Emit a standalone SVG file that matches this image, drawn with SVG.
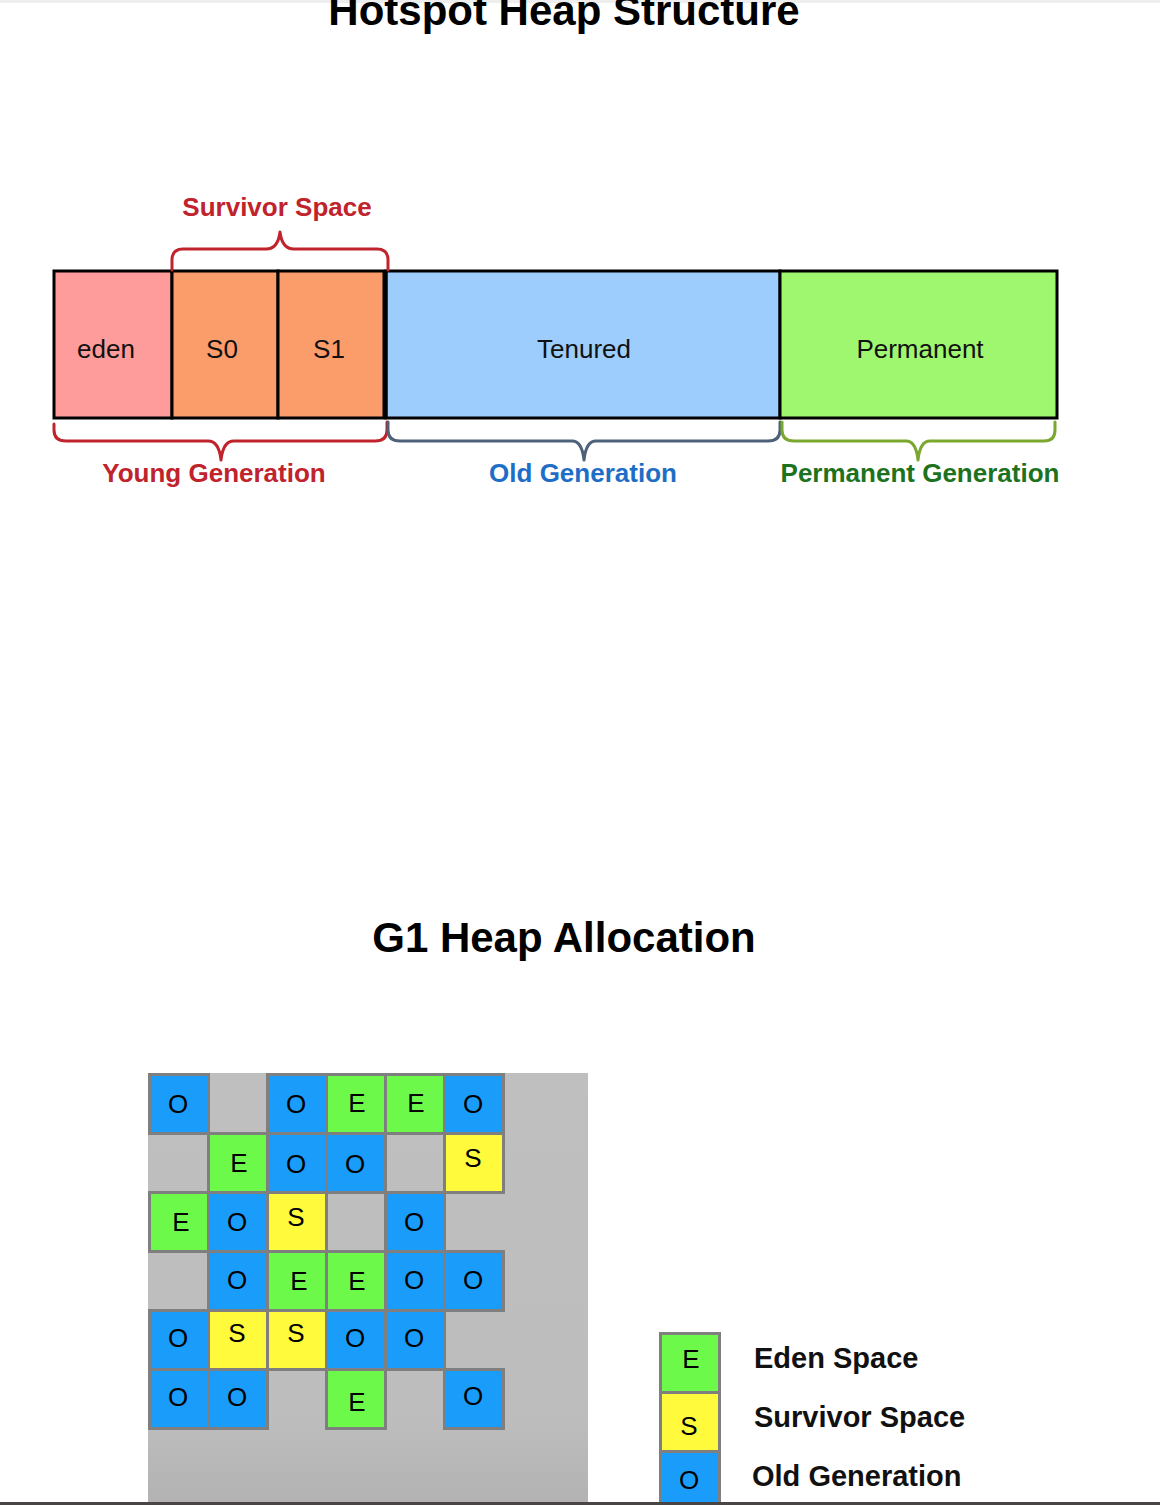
<svg xmlns="http://www.w3.org/2000/svg" width="1160" height="1505" viewBox="0 0 1160 1505">
<style>
.title{font-family:"Liberation Sans",Arial,sans-serif;font-weight:bold;fill:#000;text-anchor:middle;}
.seg{stroke:#000;stroke-width:3;}
.lbl{font-family:"Liberation Sans",Arial,sans-serif;font-size:26px;fill:#111;text-anchor:middle;dominant-baseline:central;}
.brace{fill:none;stroke-width:3;stroke-linejoin:round;stroke-linecap:round;}
.glbl{font-family:"Liberation Sans",Arial,sans-serif;font-size:26px;font-weight:bold;text-anchor:middle;}
.cell{stroke:#7f7f7f;stroke-width:3;}
.E{fill:#6cf94a;}
.S{fill:#fffa3c;}
.O{fill:#1a9cfa;}
.cl{font-family:"Liberation Sans",Arial,sans-serif;font-size:26px;fill:#000;text-anchor:middle;dominant-baseline:central;}
.leg{font-family:"Liberation Sans",Arial,sans-serif;font-size:29px;font-weight:bold;fill:#111;}
</style>
<defs>
<linearGradient id="gbg" x1="0" y1="0" x2="0" y2="1">
<stop offset="0" stop-color="#bfbfbf"/>
<stop offset="0.8" stop-color="#bdbdbd"/>
<stop offset="1" stop-color="#b2b2b2"/>
</linearGradient>
</defs>
<rect x="0" y="0" width="1160" height="1505" fill="#fff"/>
<rect x="0" y="0" width="1160" height="3" fill="#eeeeee"/>

<g id="title-hotspot">
<text class="title" x="564" y="25" font-size="42">Hotspot Heap Structure</text>
</g>

<g id="heap-bar">
<g id="eden"><rect class="seg" x="54" y="271" width="118" height="147" fill="#fe9b9b"/><text class="lbl" x="106" y="349">eden</text></g>
<g id="s0"><rect class="seg" x="172" y="271" width="106" height="147" fill="#fb9c6b"/><text class="lbl" x="222" y="349">S0</text></g>
<g id="s1"><rect class="seg" x="278" y="271" width="107" height="147" fill="#fb9c6b"/><text class="lbl" x="329" y="349">S1</text></g>
<g id="tenured"><rect class="seg" x="386" y="271" width="394" height="147" fill="#9dcdfc"/><text class="lbl" x="584" y="349">Tenured</text></g>
<g id="permanent"><rect class="seg" x="780" y="271" width="277" height="147" fill="#9ff76f"/><text class="lbl" x="920" y="349">Permanent</text></g>
<line x1="385" y1="271" x2="385" y2="418" stroke="#000" stroke-width="5"/>
</g>

<g id="connectors">
<path class="brace" stroke="#c0232b" d="M172,270 L172,260 Q172,249 183,249 L266,249 Q278,249 280,232 Q282,249 294,249 L377,249 Q388,249 388,260 L388,270"/>
<path class="brace" stroke="#c0232b" d="M54,424 L54,430 Q54,441 66,441 L208,441 Q219,441 221,460 Q223,441 234,441 L375,441 Q387,441 387,430 L387,422"/>
<path class="brace" stroke="#4d6278" d="M388,422 L388,430 Q388,441 400,441 L572,441 Q582,441 584,460 Q586,441 596,441 L768,441 Q780,441 780,430 L780,422"/>
<path class="brace" stroke="#7ba72e" d="M782,422 L782,430 Q782,441 794,441 L906,441 Q916,441 918,460 Q920,441 930,441 L1044,441 Q1055,441 1055,430 L1055,422"/>
</g>

<g id="group-labels">
<text class="glbl" x="277" y="216" fill="#c0232b">Survivor Space</text>
<text class="glbl" x="214" y="482" fill="#c0232b">Young Generation</text>
<text class="glbl" x="583" y="482" fill="#1e6dc6">Old Generation</text>
<text class="glbl" x="920" y="482" fill="#1d7220">Permanent Generation</text>
</g>

<g id="title-g1">
<text class="title" x="564" y="952" font-size="42">G1 Heap Allocation</text>
</g>

<g id="g1-grid">
<rect x="148" y="1073" width="440" height="432" fill="url(#gbg)"/>
<g id="r0">
<rect class="cell O" x="149.5" y="1074.5" width="59" height="59"/><text class="cl" x="178" y="1104">O</text>
<rect class="cell O" x="267.5" y="1074.5" width="59" height="59"/><text class="cl" x="296" y="1104">O</text>
<rect class="cell E" x="326.5" y="1074.5" width="59" height="59"/><text class="cl" x="357" y="1103">E</text>
<rect class="cell E" x="385.5" y="1074.5" width="59" height="59"/><text class="cl" x="416" y="1103">E</text>
<rect class="cell O" x="444.5" y="1074.5" width="59" height="59"/><text class="cl" x="473" y="1104">O</text>
</g>
<g id="r1">
<rect class="cell E" x="208.5" y="1133.5" width="59" height="59"/><text class="cl" x="239" y="1163">E</text>
<rect class="cell O" x="267.5" y="1133.5" width="59" height="59"/><text class="cl" x="296" y="1164">O</text>
<rect class="cell O" x="326.5" y="1133.5" width="59" height="59"/><text class="cl" x="355" y="1164">O</text>
<rect class="cell S" x="444.5" y="1133.5" width="59" height="59"/><text class="cl" x="473" y="1158">S</text>
</g>
<g id="r2">
<rect class="cell E" x="149.5" y="1192.5" width="59" height="59"/><text class="cl" x="181" y="1222">E</text>
<rect class="cell O" x="208.5" y="1192.5" width="59" height="59"/><text class="cl" x="237" y="1222">O</text>
<rect class="cell S" x="267.5" y="1192.5" width="59" height="59"/><text class="cl" x="296" y="1217">S</text>
<rect class="cell O" x="385.5" y="1192.5" width="59" height="59"/><text class="cl" x="414" y="1222">O</text>
</g>
<g id="r3">
<rect class="cell O" x="208.5" y="1251.5" width="59" height="59"/><text class="cl" x="237" y="1280">O</text>
<rect class="cell E" x="267.5" y="1251.5" width="59" height="59"/><text class="cl" x="299" y="1281">E</text>
<rect class="cell E" x="326.5" y="1251.5" width="59" height="59"/><text class="cl" x="357" y="1281">E</text>
<rect class="cell O" x="385.5" y="1251.5" width="59" height="59"/><text class="cl" x="414" y="1280">O</text>
<rect class="cell O" x="444.5" y="1251.5" width="59" height="59"/><text class="cl" x="473" y="1280">O</text>
</g>
<g id="r4">
<rect class="cell O" x="149.5" y="1310.5" width="59" height="59"/><text class="cl" x="178" y="1338">O</text>
<rect class="cell S" x="208.5" y="1310.5" width="59" height="59"/><text class="cl" x="237" y="1333">S</text>
<rect class="cell S" x="267.5" y="1310.5" width="59" height="59"/><text class="cl" x="296" y="1333">S</text>
<rect class="cell O" x="326.5" y="1310.5" width="59" height="59"/><text class="cl" x="355" y="1338">O</text>
<rect class="cell O" x="385.5" y="1310.5" width="59" height="59"/><text class="cl" x="414" y="1338">O</text>
</g>
<g id="r5">
<rect class="cell O" x="149.5" y="1369.5" width="59" height="59"/><text class="cl" x="178" y="1397">O</text>
<rect class="cell O" x="208.5" y="1369.5" width="59" height="59"/><text class="cl" x="237" y="1397">O</text>
<rect class="cell E" x="326.5" y="1369.5" width="59" height="59"/><text class="cl" x="357" y="1402">E</text>
<rect class="cell O" x="444.5" y="1369.5" width="59" height="59"/><text class="cl" x="473" y="1396">O</text>
</g>
</g>

<g id="legend">
<g id="legend-eden"><rect class="cell E" x="660.5" y="1333.5" width="59" height="59"/><text class="cl" x="691" y="1359">E</text><text class="leg" x="754" y="1368">Eden Space</text></g>
<g id="legend-survivor"><rect class="cell S" x="660.5" y="1392.5" width="59" height="59"/><text class="cl" x="689" y="1426">S</text><text class="leg" x="754" y="1427">Survivor Space</text></g>
<g id="legend-old"><rect class="cell O" x="660.5" y="1451.5" width="59" height="59"/><text class="cl" x="689" y="1480">O</text><text class="leg" x="752" y="1486">Old Generation</text></g>
</g>

<rect x="0" y="1502" width="1160" height="3" fill="#4a4545"/>
</svg>
